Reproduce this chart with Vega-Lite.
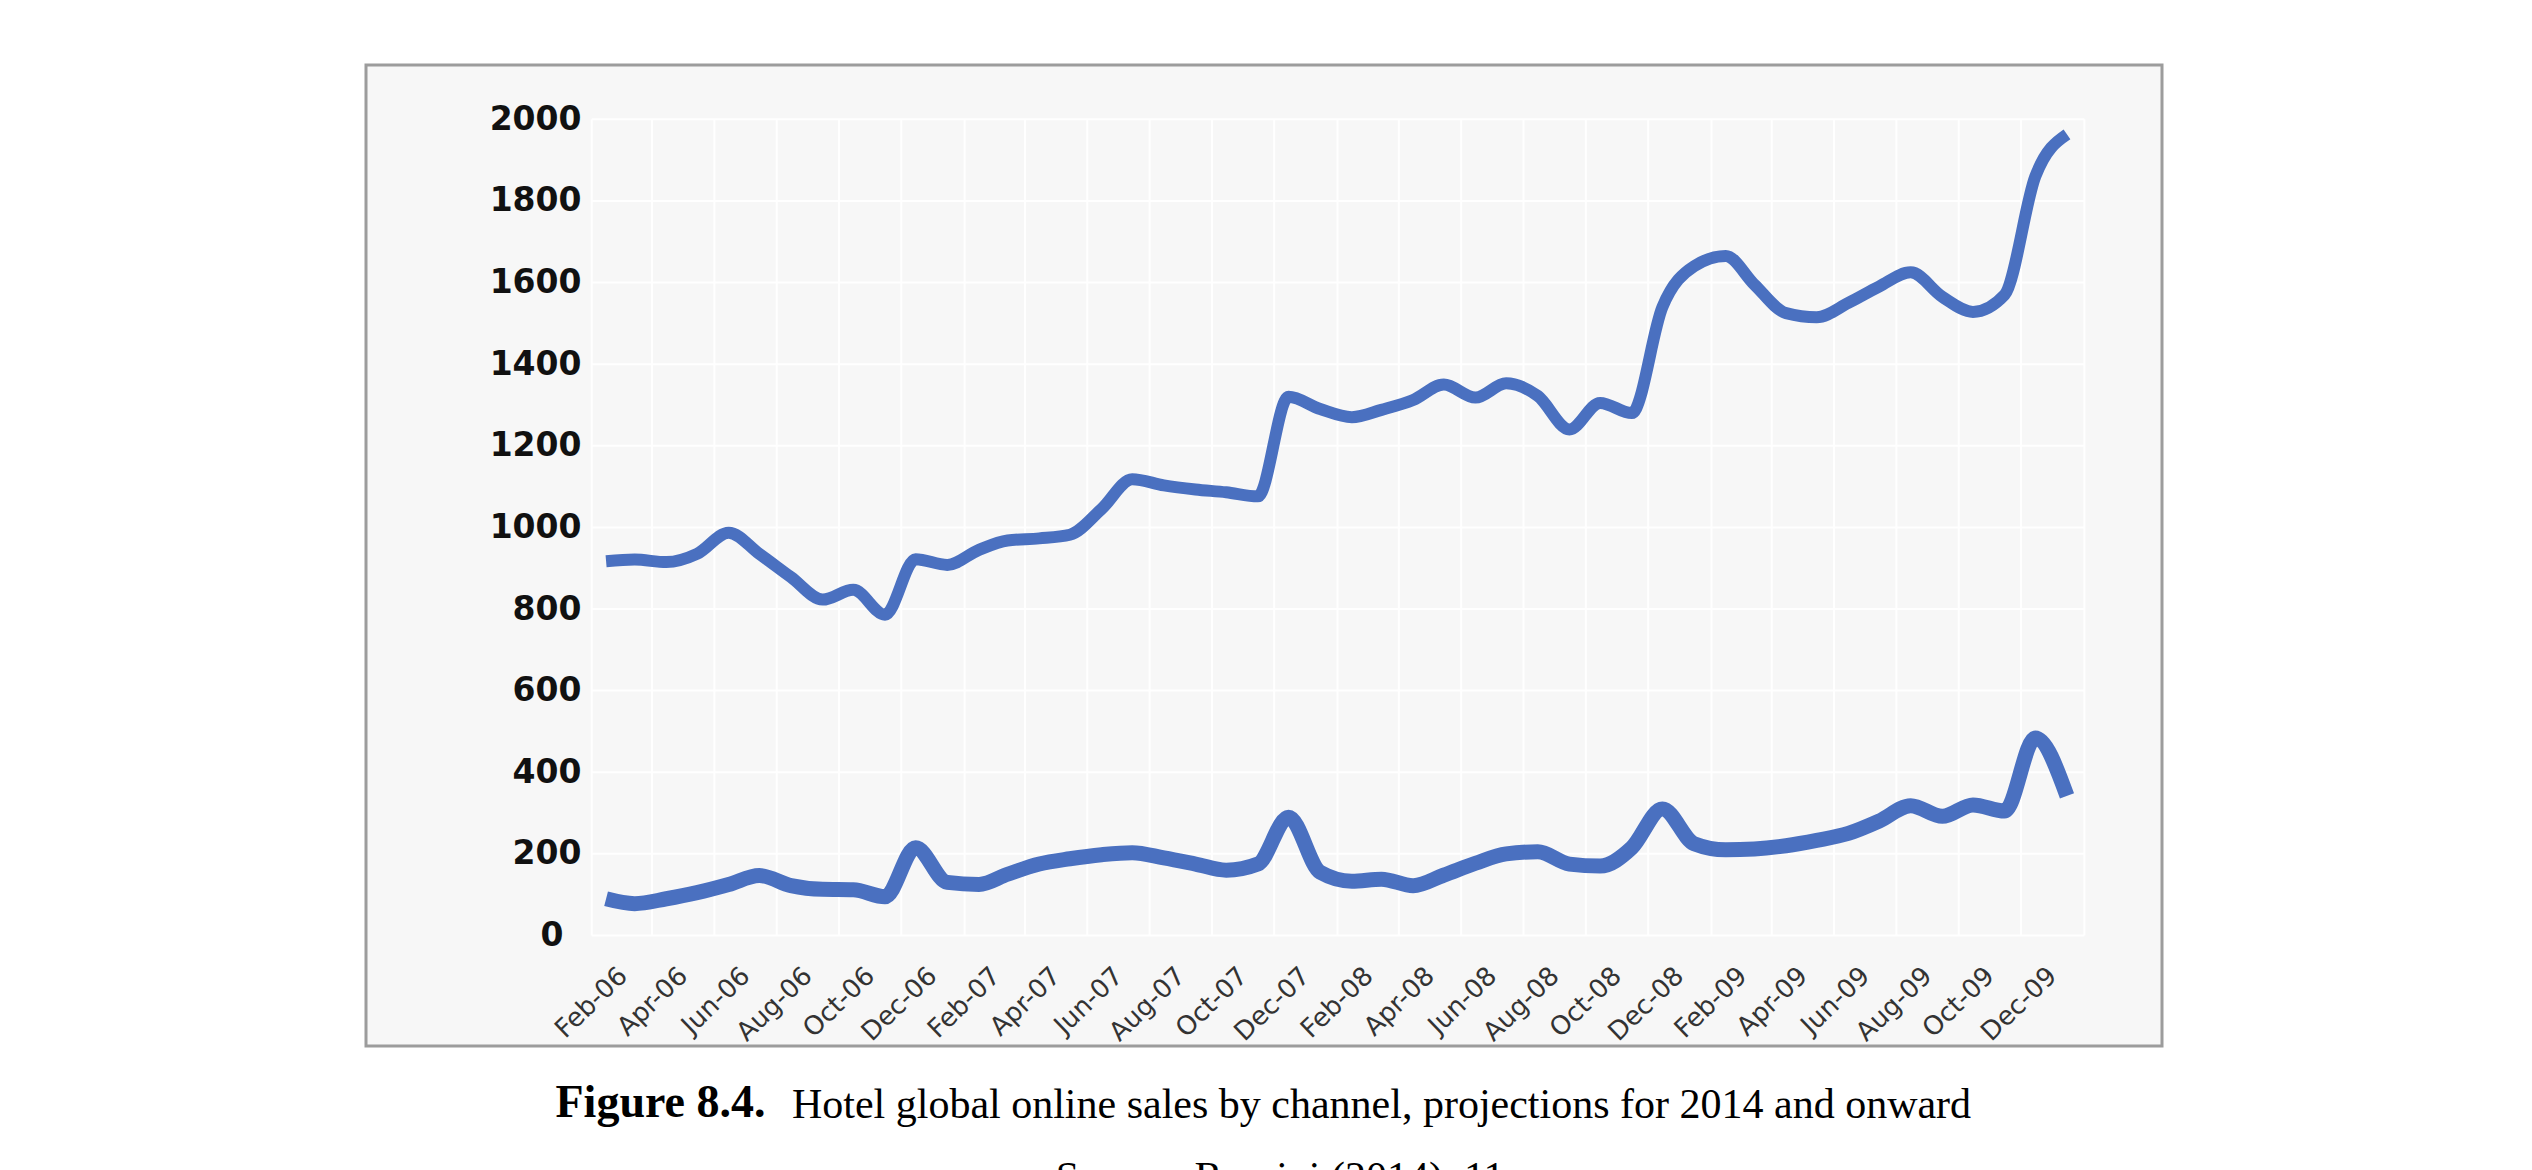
{
  "$schema": "https://vega.github.io/schema/vega-lite/v6.json",
  "width": 1796,
  "height": 981,
  "autosize": {"type": "none"},
  "padding": {"left": 366, "top": 65, "right": 370, "bottom": 124},
  "background": "white",
  "config": {
    "view": {"fill": "#f7f7f7", "stroke": "#9c9c9c", "strokeWidth": 3}
  },
  "title": {
    "text": "Source: Rossini (2014), 11",
    "orient": "bottom",
    "anchor": "middle",
    "frame": "group",
    "dx": 16,
    "offset": 65,
    "baseline": "alphabetic",
    "font": "Liberation Serif",
    "fontSize": 42,
    "fontWeight": "normal",
    "color": "#000000"
  },
  "data": {
    "values": [
      {"month": "2006-02-15", "upper": 917, "lower": 90},
      {"month": "2006-03-15", "upper": 921, "lower": 78},
      {"month": "2006-04-15", "upper": 915, "lower": 90},
      {"month": "2006-05-15", "upper": 935, "lower": 105},
      {"month": "2006-06-15", "upper": 987, "lower": 125},
      {"month": "2006-07-15", "upper": 935, "lower": 147},
      {"month": "2006-08-15", "upper": 878, "lower": 122},
      {"month": "2006-09-15", "upper": 823, "lower": 113},
      {"month": "2006-10-15", "upper": 847, "lower": 112},
      {"month": "2006-11-15", "upper": 786, "lower": 95},
      {"month": "2006-12-15", "upper": 922, "lower": 215},
      {"month": "2007-01-15", "upper": 908, "lower": 130},
      {"month": "2007-02-15", "upper": 945, "lower": 125},
      {"month": "2007-03-15", "upper": 968, "lower": 150},
      {"month": "2007-04-15", "upper": 973, "lower": 175},
      {"month": "2007-05-15", "upper": 982, "lower": 188},
      {"month": "2007-06-15", "upper": 1045, "lower": 198},
      {"month": "2007-07-15", "upper": 1118, "lower": 203},
      {"month": "2007-08-15", "upper": 1103, "lower": 190},
      {"month": "2007-09-15", "upper": 1093, "lower": 175},
      {"month": "2007-10-15", "upper": 1086, "lower": 160},
      {"month": "2007-11-15", "upper": 1076, "lower": 175},
      {"month": "2007-12-15", "upper": 1320, "lower": 290},
      {"month": "2008-01-15", "upper": 1290, "lower": 155},
      {"month": "2008-02-15", "upper": 1270, "lower": 133},
      {"month": "2008-03-15", "upper": 1288, "lower": 138},
      {"month": "2008-04-15", "upper": 1312, "lower": 122},
      {"month": "2008-05-15", "upper": 1350, "lower": 148},
      {"month": "2008-06-15", "upper": 1318, "lower": 177},
      {"month": "2008-07-15", "upper": 1353, "lower": 200},
      {"month": "2008-08-15", "upper": 1322, "lower": 205},
      {"month": "2008-09-15", "upper": 1240, "lower": 175},
      {"month": "2008-10-15", "upper": 1305, "lower": 170},
      {"month": "2008-11-15", "upper": 1280, "lower": 215},
      {"month": "2008-12-15", "upper": 1540, "lower": 310},
      {"month": "2009-01-15", "upper": 1640, "lower": 225},
      {"month": "2009-02-15", "upper": 1665, "lower": 210},
      {"month": "2009-03-15", "upper": 1595, "lower": 212},
      {"month": "2009-04-15", "upper": 1525, "lower": 220},
      {"month": "2009-05-15", "upper": 1515, "lower": 233},
      {"month": "2009-06-15", "upper": 1550, "lower": 250},
      {"month": "2009-07-15", "upper": 1590, "lower": 280},
      {"month": "2009-08-15", "upper": 1625, "lower": 318},
      {"month": "2009-09-15", "upper": 1565, "lower": 292},
      {"month": "2009-10-15", "upper": 1528, "lower": 320},
      {"month": "2009-11-15", "upper": 1570, "lower": 305},
      {"month": "2009-12-15", "upper": 1860, "lower": 484},
      {"month": "2010-01-15", "upper": 1963, "lower": 342}
    ]
  },
  "layer": [
    {
      "data": {
        "values": [
          {"d": "2006-02-01"}, {"d": "2006-04-01"}, {"d": "2006-06-01"}, {"d": "2006-08-01"},
          {"d": "2006-10-01"}, {"d": "2006-12-01"}, {"d": "2007-02-01"}, {"d": "2007-04-01"},
          {"d": "2007-06-01"}, {"d": "2007-08-01"}, {"d": "2007-10-01"}, {"d": "2007-12-01"},
          {"d": "2008-02-01"}, {"d": "2008-04-01"}, {"d": "2008-06-01"}, {"d": "2008-08-01"},
          {"d": "2008-10-01"}, {"d": "2008-12-01"}, {"d": "2009-02-01"}, {"d": "2009-04-01"},
          {"d": "2009-06-01"}, {"d": "2009-08-01"}, {"d": "2009-10-01"}, {"d": "2009-12-01"},
          {"d": "2010-02-01"}
        ]
      },
      "mark": {"type": "rule", "color": "#ffffff", "strokeWidth": 2},
      "encoding": {
        "x": {
          "field": "d",
          "type": "temporal",
          "scale": {
            "type": "utc",
            "nice": false,
            "domain": [
              {"year": 2005, "month": 6, "date": 25, "utc": true},
              {"year": 2010, "month": 4, "date": 18, "utc": true}
            ]
          },
          "axis": {
            "values": [
              {"year": 2006, "month": 2, "date": 1, "utc": true},
              {"year": 2006, "month": 4, "date": 1, "utc": true},
              {"year": 2006, "month": 6, "date": 1, "utc": true},
              {"year": 2006, "month": 8, "date": 1, "utc": true},
              {"year": 2006, "month": 10, "date": 1, "utc": true},
              {"year": 2006, "month": 12, "date": 1, "utc": true},
              {"year": 2007, "month": 2, "date": 1, "utc": true},
              {"year": 2007, "month": 4, "date": 1, "utc": true},
              {"year": 2007, "month": 6, "date": 1, "utc": true},
              {"year": 2007, "month": 8, "date": 1, "utc": true},
              {"year": 2007, "month": 10, "date": 1, "utc": true},
              {"year": 2007, "month": 12, "date": 1, "utc": true},
              {"year": 2008, "month": 2, "date": 1, "utc": true},
              {"year": 2008, "month": 4, "date": 1, "utc": true},
              {"year": 2008, "month": 6, "date": 1, "utc": true},
              {"year": 2008, "month": 8, "date": 1, "utc": true},
              {"year": 2008, "month": 10, "date": 1, "utc": true},
              {"year": 2008, "month": 12, "date": 1, "utc": true},
              {"year": 2009, "month": 2, "date": 1, "utc": true},
              {"year": 2009, "month": 4, "date": 1, "utc": true},
              {"year": 2009, "month": 6, "date": 1, "utc": true},
              {"year": 2009, "month": 8, "date": 1, "utc": true},
              {"year": 2009, "month": 10, "date": 1, "utc": true},
              {"year": 2009, "month": 12, "date": 1, "utc": true}
            ],
            "labelExpr": "utcFormat(datum.value, '%b-%y')",
            "offset": -110.5,
            "grid": false,
            "ticks": false,
            "tickSize": 0,
            "domain": false,
            "labelAngle": -44,
            "labelAlign": "right",
            "labelBaseline": "middle",
            "labelOffset": 31,
            "labelPadding": 36,
            "labelFlush": false,
            "labelOverlap": false,
            "labelFont": "DejaVu Sans",
            "labelFontSize": 26,
            "labelColor": "#333333",
            "title": "Figure 8.4.",
            "titleFont": "Liberation Serif",
            "titleFontSize": 46,
            "titleFontWeight": "bold",
            "titleColor": "#000000",
            "titleAngle": 0,
            "titleAlign": "center",
            "titleBaseline": "alphabetic",
            "titleX": 294,
            "titleY": 181
          }
        },
        "y": {
          "datum": 0,
          "type": "quantitative",
          "scale": {"domain": [-270.8, 2133], "nice": false, "zero": false}
        },
        "y2": {"datum": 2000}
      }
    },
    {
      "data": {
        "values": [
          {"v": 0}, {"v": 200}, {"v": 400}, {"v": 600}, {"v": 800}, {"v": 1000},
          {"v": 1200}, {"v": 1400}, {"v": 1600}, {"v": 1800}, {"v": 2000}
        ]
      },
      "mark": {"type": "rule", "color": "#ffffff", "strokeWidth": 2},
      "encoding": {
        "y": {
          "field": "v",
          "type": "quantitative",
          "axis": {
            "values": [0, 200, 400, 600, 800, 1000, 1200, 1400, 1600, 1800, 2000],
            "format": "d",
            "offset": -226,
            "grid": false,
            "ticks": false,
            "tickSize": 0,
            "domain": false,
            "labelPadding": {"condition": {"test": "datum.value == 0", "value": 29}, "value": 11},
            "labelFont": "DejaVu Sans",
            "labelFontWeight": "bold",
            "labelFontSize": 33,
            "labelColor": "#111111",
            "labelBaseline": "middle",
            "labelFlush": false,
            "title": "Hotel global online sales by channel, projections for 2014 and onward",
            "titleFont": "Liberation Serif",
            "titleFontSize": 42,
            "titleFontWeight": "normal",
            "titleColor": "#000000",
            "titleAngle": 0,
            "titleAlign": "center",
            "titleBaseline": "alphabetic",
            "titleX": 789,
            "titleY": 1052
          }
        },
        "x": {"datum": {"year": 2006, "month": 2, "date": 1, "utc": true}, "type": "temporal"},
        "x2": {"datum": {"year": 2010, "month": 2, "date": 1, "utc": true}}
      }
    },
    {
      "mark": {"type": "line", "color": "#4a70c0", "strokeWidth": 12, "interpolate": "monotone", "strokeJoin": "round"},
      "encoding": {
        "x": {"field": "month", "type": "temporal"},
        "y": {"field": "upper", "type": "quantitative"}
      }
    },
    {
      "mark": {"type": "line", "color": "#4a70c0", "strokeWidth": 15, "interpolate": "monotone", "strokeJoin": "round"},
      "encoding": {
        "x": {"field": "month", "type": "temporal"},
        "y": {"field": "lower", "type": "quantitative"}
      }
    }
  ]
}
